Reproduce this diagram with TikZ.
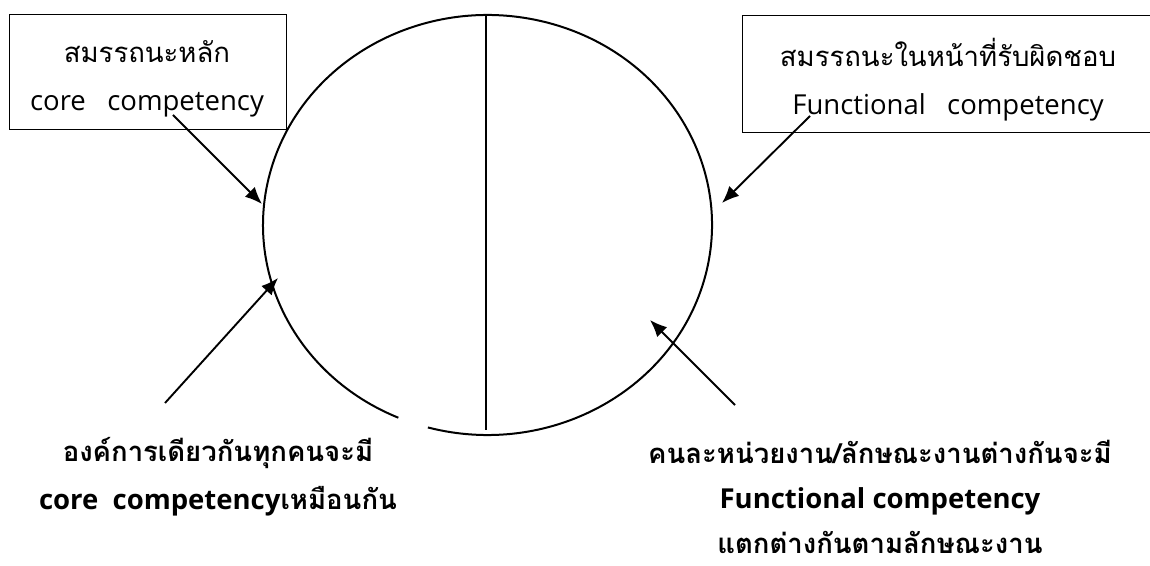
\documentclass[tikz,border=0pt]{standalone}
\usepackage{fontspec}
\newfontfamily\thai[Script=Thai]{Loma}
\newfontfamily\lat{Open Sans}
\usetikzlibrary{arrows.meta,calc}
\begin{document}
\begin{tikzpicture}[x=1pt,y=1pt,
  boxst/.style={draw, line width=0.9pt, inner sep=0pt},
  txtst/.style={align=center, font=\thai\fontsize{27.5}{48}\selectfont, inner sep=0pt},
  lblst/.style={align=center, font=\thai\bfseries\fontsize{27.5}{48}\selectfont, inner sep=0pt},
  arr/.style={line width=1.9pt, -{Latex[length=17pt,width=14pt]}}]
\useasboundingbox (0,0) rectangle (1150,565);
% boxes
\node[boxst, minimum width=277pt, minimum height=115pt] (core) at (148,493.5) {};
\node[txtst] (coreT) at (147,486) {สมรรถนะหลัก\\{\lat core\ \ \ competency}};
\node[boxst, minimum width=416pt, minimum height=117pt] (func) at (950,491.5) {};
\node[txtst] (funcT) at (948,485) {สมรรถนะในหน้าที่รับผิดชอบ\\{\lat Functional\ \ \ competency}};
% ellipse with gap
\coordinate (ec) at (487.5,340);
\draw[line width=2pt] ($(ec)+(254.6:224.5 and 210)$) arc[start angle=254.6, end angle=606.6, x radius=224.5, y radius=210];
\coordinate (vtop) at (486,550);
\coordinate (vbot) at (486,135);
\draw[line width=1.4pt] (vtop) -- (vbot);
% labels
\node[lblst] (lbl) at (218,88) {องค์การเดียวกันทุกคนจะมี\\{\lat\bfseries core\ \ competency}เหมือนกัน};
\node[lblst, font=\thai\bfseries\fontsize{27.5}{45}\selectfont] (rbl) at (880,68) {คนละหน่วยงาน/ลักษณะงานต่างกันจะมี\\{\lat\bfseries Functional competency}\\แตกต่างกันตามลักษณะงาน};
% arrows
\coordinate (s1) at (173,450); \coordinate (e1) at (262,361);
\coordinate (s2) at (810,449); \coordinate (e2) at (722,362);
\coordinate (s3) at (165,162); \coordinate (e3) at (278,287);
\coordinate (s4) at (735,160); \coordinate (e4) at (650,245);
\draw[arr] (s1) -- (e1);
\draw[arr] (s2) -- (e2);
\draw[arr] (s3) -- (e3);
\draw[arr] (s4) -- (e4);
\end{tikzpicture}
\end{document}
